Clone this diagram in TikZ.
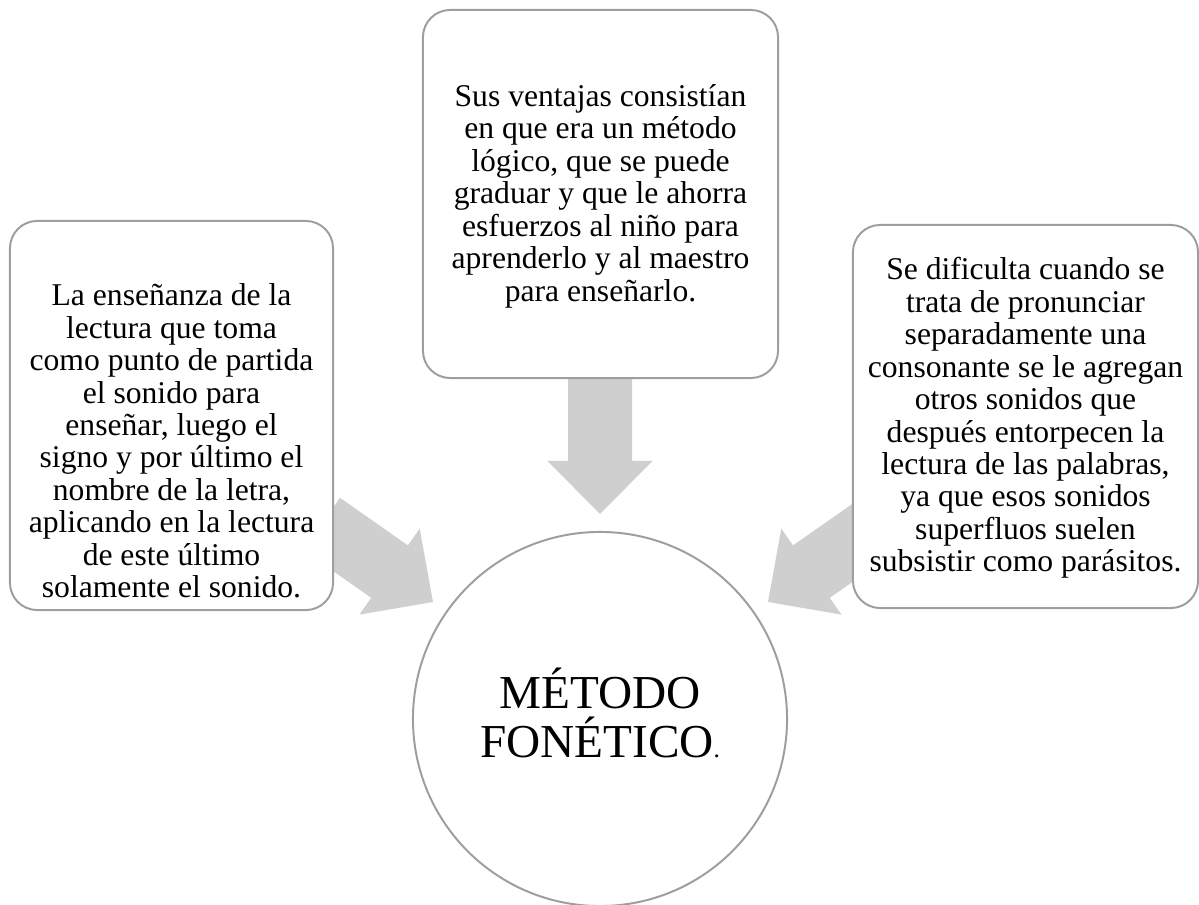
\documentclass[tikz,border=0pt]{standalone}
\usepackage{fontspec}
\setmainfont{Liberation Serif}
\definecolor{boxline}{RGB}{158,158,158}
\definecolor{arrowfill}{RGB}{207,207,207}
\tikzset{
  roundbox/.style={draw=boxline, line width=1.4pt, fill=white, rounded corners=0.68cm},
  boxtext/.style={align=center, inner sep=0pt, font=\fontsize{22.5}{23.1}\selectfont},
  bigarrow/.pic={
    \fill[arrowfill] (0,-32) -- (83,-32) -- (83,-52.5) -- (136,0)
      -- (83,52.5) -- (83,32) -- (0,32) -- cycle;
  }
}
\begin{document}
\begin{tikzpicture}[x=0.025cm, y=0.025cm]
  \useasboundingbox (0,0) rectangle (1199,-905);

  % arrows go first, the boxes hide their ends
  \pic[rotate=-90] (aup) at (600,-378) {bigarrow};
  \pic[rotate=-35] (aleft) at (321.6,-524) {bigarrow};
  \pic[rotate=-145] (aright) at (879.4,-524) {bigarrow};

  % the three boxes
  \node[roundbox, minimum width=8.075cm, minimum height=9.725cm] (lbox) at (171.5,-415.5) {};
  \node[roundbox, minimum width=8.875cm, minimum height=9.2cm] (tbox) at (600.5,-194) {};
  \node[roundbox, minimum width=8.625cm, minimum height=9.575cm] (rbox) at (1025.5,-416.5) {};

  \node[boxtext] (ltext) at (171.5,-441) {La enseñanza de la\\lectura que toma\\como punto de partida\\el sonido para\\enseñar, luego el\\signo y por último el\\nombre de la letra,\\aplicando en la lectura\\de este último\\solamente el sonido.};
  \node[boxtext] (ttext) at (600.5,-196) {Sus ventajas consistían\\en que era un método\\lógico, que se puede\\graduar y que le ahorra\\esfuerzos al niño para\\aprenderlo y al maestro\\para enseñarlo.};
  \node[boxtext] (rtext) at (1025.5,-418) {Se dificulta cuando se\\trata de pronunciar\\separadamente una\\consonante se le agregan\\otros sonidos que\\después entorpecen la\\lectura de las palabras,\\ya que esos sonidos\\superfluos suelen\\subsistir como parásitos.};

  % centre
  \node[circle, draw=boxline, line width=1.4pt, fill=white, minimum size=9.35cm] (metodo) at (600,-719) {};
  \node[align=center, inner sep=0pt, font=\fontsize{33.6}{34.7}\selectfont] (titulo) at (600,-713) {MÉTODO\\FONÉTICO{\fontsize{18}{18}\selectfont .}};
\end{tikzpicture}
\end{document}
